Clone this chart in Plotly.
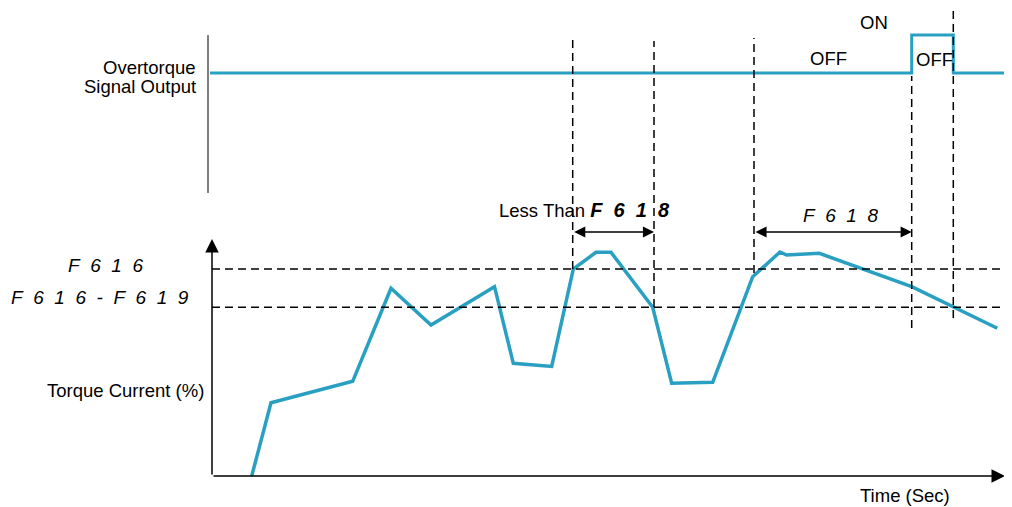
import plotly.graph_objects as go

# torque current curve (time units, torque units)
torque_t = [39.7, 59, 140.7, 179, 219, 282.5, 301.3, 339.7, 361.3, 384, 399, 440.7,
            459.7, 500.7, 540.7, 564.7, 568, 574.7, 607.3, 699.7, 741.3, 785.3]
torque_v = [0, 73.3, 94.7, 187.7, 151, 189.3, 112.7, 109.5, 207, 223.7, 223.7, 168.7,
            92.7, 93.7, 199.3, 222, 224, 221, 222.7, 189.3, 168.7, 147.7]

# overtorque signal output (0 = OFF, 1 = ON)
signal_t = [-2, 699.7, 699.7, 741.3, 741.3, 808]
signal_v = [0, 0, 1, 1, 0, 0]

# detection levels
S = "\u00a0"
level_names = ["F" + S*2 + "6" + S*2 + "1" + S*2 + "6",
               "F" + S*2 + "6" + S*2 + "1" + S*2 + "6" + S*2 + "-" + S*2 +
               "F" + S*2 + "6" + S*2 + "1" + S*2 + "9"]
level_v = [207, 168.7]
span_name = "F" + S*2 + "6" + S*2 + "1" + S*2 + "8"

# event times (vertical dashed markers)
event_t = [360.7, 442, 542, 699.7, 741.3]
event_top = [436, 435, 438, 400, 466]
event_bot = [207, 169, 203, 148, 158]

teal = "#29a0c1"
font = "Arial, Liberation Sans, sans-serif"

fig = go.Figure()

fig.add_trace(go.Scatter(x=torque_t, y=torque_v, mode="lines",
                         line=dict(color=teal, width=3.5), hoverinfo="skip"))
fig.add_trace(go.Scatter(x=signal_t, y=signal_v, mode="lines", yaxis="y2",
                         line=dict(color=teal, width=3), hoverinfo="skip"))

shapes = []
# threshold lines
for v in level_v:
    shapes.append(dict(type="line", x0=0, x1=808, y0=v, y1=v, xref="x", yref="y",
                       line=dict(color="black", width=1.5, dash="8px,5px")))
# event markers
for t, y0, y1 in zip(event_t, event_bot, event_top):
    shapes.append(dict(type="line", x0=t, x1=t, y0=y0, y1=y1, xref="x", yref="y",
                       line=dict(color="black", width=1.5, dash="8px,5px")))
# signal axis line
shapes.append(dict(type="line", x0=-4, x1=-4, y0=-3.16, y1=1.0, xref="x", yref="y2",
                   line=dict(color="#555555", width=1.5)))

ann = []
# axes with arrow heads
ann.append(dict(x=793, y=0, ax=0, ay=0, xref="x", yref="y", axref="x", ayref="y",
                text="", showarrow=True, arrowhead=2, arrowsize=1.8, arrowwidth=1.5,
                arrowcolor="black"))
ann.append(dict(x=0, y=237, ax=0, ay=0, xref="x", yref="y", axref="x", ayref="y",
                text="", showarrow=True, arrowhead=2, arrowsize=1.8, arrowwidth=1.5,
                arrowcolor="black"))
# span arrows
for a, b in [(event_t[0], event_t[1]), (event_t[2], event_t[3])]:
    ann.append(dict(x=b, y=244, ax=a, ay=244, xref="x", yref="y", axref="x", ayref="y",
                    text="", showarrow=True, arrowhead=2, startarrowhead=2,
                    arrowside="end+start", arrowsize=1.7, startarrowsize=1.7,
                    arrowwidth=1.3, arrowcolor="black"))

def label(x, y, text, xanchor="center", size=18.5, align="center"):
    ann.append(dict(x=x, y=y, xref="x", yref="y", text=text, showarrow=False,
                    xanchor=xanchor, yanchor="middle", align=align,
                    font=dict(family=font, size=size, color="black")))

label(-14, 409, "Overtorque", xanchor="right")
label(-14, 390, "Signal Output", xanchor="right")
label(-6, 86, "Torque Current (%)", xanchor="right")
label(693, -19, "Time (Sec)")
label(285, 266, "Less Than <b><i><span style='font-size:20px'>" + span_name + "</span></i></b>",
      xanchor="left")
label(628, 261, "<i>" + span_name + "</i>", size=19)
label(-107, 211, "<i>" + level_names[0] + "</i>", size=19)
label(-112, 179, "<i>" + level_names[1] + "</i>", size=19)
label(662, 454, "ON")
label(616, 418, "OFF")
label(722, 417, "OFF")

# the page body adds an 8px offset at top-left; ranges are shifted to match
fig.update_layout(
    width=1012, height=499,
    margin=dict(l=0, r=0, t=0, b=0),
    paper_bgcolor="white", plot_bgcolor="white",
    showlegend=False,
    xaxis=dict(range=[-204, 808], visible=False, fixedrange=True),
    yaxis=dict(range=[-31, 468], visible=False, fixedrange=True),
    yaxis2=dict(range=[-11.421, 1.7105], visible=False, overlaying="y", fixedrange=True),
    shapes=shapes,
    annotations=ann,
)

fig.write_html("out.html")
